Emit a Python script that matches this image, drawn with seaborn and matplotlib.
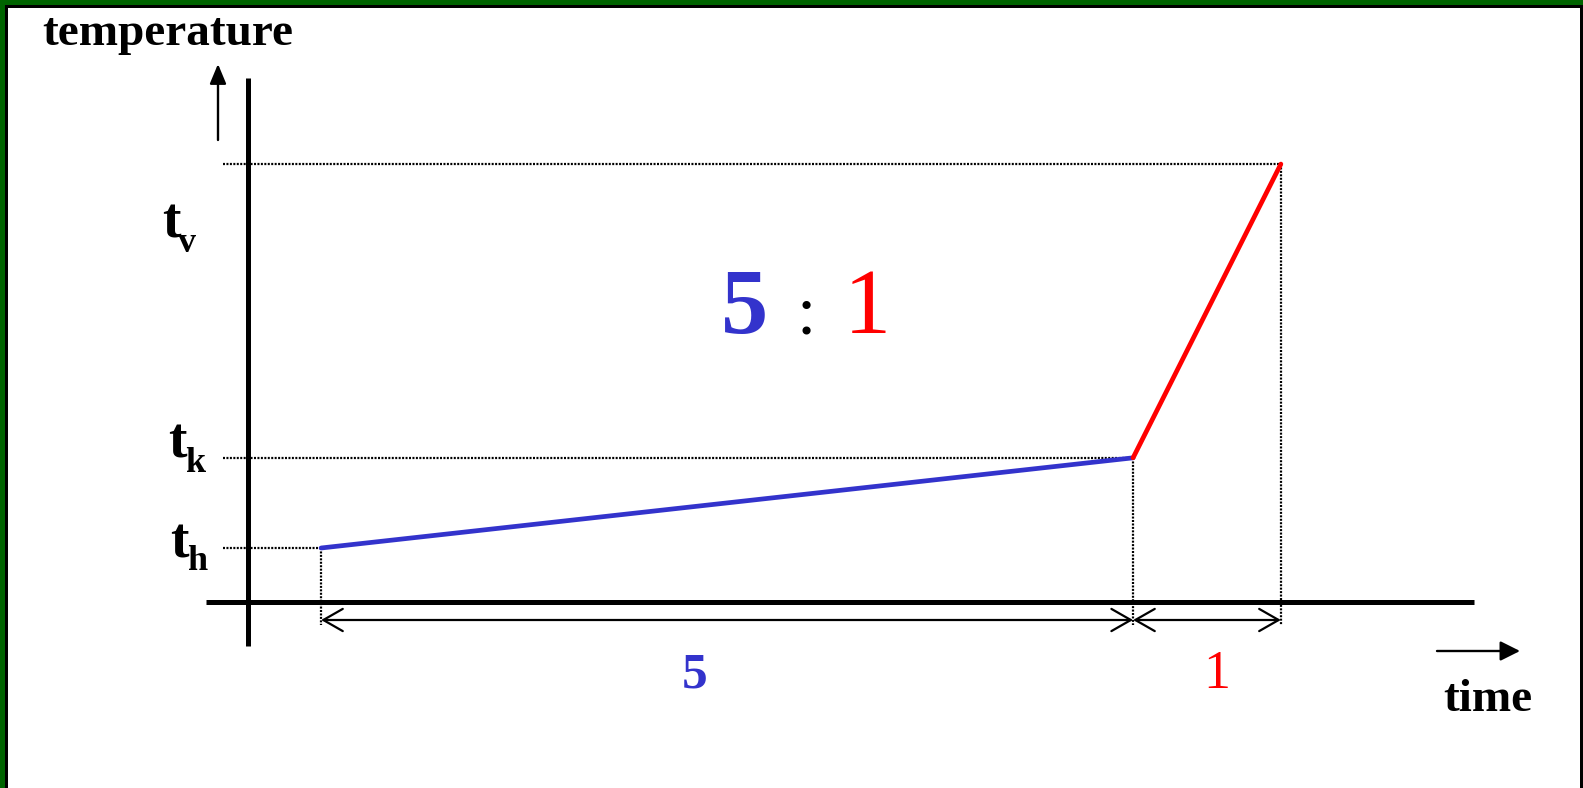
import numpy as np
import pandas as pd
import matplotlib
matplotlib.use("Agg")
import matplotlib.pyplot as plt
import seaborn as sns
from matplotlib.patches import FancyArrowPatch, Rectangle

# ---------------- data ----------------
stages = ["heating", "heating", "boiling", "boiling"]
time_points = [0.45, 5.45, 6.36]      # time at t_h, t_k, t_v (origin at vertical axis)
temp_points = [1.0, 2.67, 8.11]       # t_h, t_k, t_v
temp_subscripts = ["h", "k", "v"]
duration_labels = ["5", "1"]
ratio_parts = ["5", ":", "1"]
axis_titles = ["temperature", "time"]

BLUE = "#3333CC"
RED = "#FF0000"
GREEN = "#006400"

# ---------------- layout helpers ----------------
W, H = 1583, 788
OX, OY = 248, 602          # pixel position of the axes origin
SX, SY = 162.4, 54.0       # pixels per data unit


def P(x, y):
    """pixel (from top-left) -> data coordinates"""
    return (x - OX) / SX, (OY - y) / SY


sns.set_theme(style="white")
plt.rcParams["font.family"] = ["Liberation Serif", "DejaVu Serif"]

fig = plt.figure(figsize=(W / 100, H / 100), dpi=100)
ax = fig.add_axes([0, 0, 1, 1])
ax.set_xlim(-OX / SX, (W - OX) / SX)
ax.set_ylim((OY - H) / SY, OY / SY)
ax.axis("off")

# ---------------- main curve ----------------
df = pd.DataFrame({
    "time": [time_points[0], time_points[1], time_points[1], time_points[2]],
    "temp": [temp_points[0], temp_points[1], temp_points[1], temp_points[2]],
    "stage": stages,
})
sns.lineplot(data=df, x="time", y="temp", hue="stage", sort=False,
             palette={"heating": BLUE, "boiling": RED}, linewidth=3.4,
             legend=False, ax=ax, zorder=5)

# ---------------- axes lines ----------------
x0, _ = P(206, 0)
x1, _ = P(1474, 0)
ax.plot([x0, x1], [0, 0], color="black", lw=3.6, solid_capstyle="butt", zorder=3)
_, yb = P(0, 646)
_, yt = P(0, 78)
ax.plot([0, 0], [yb, yt], color="black", lw=3.6, solid_capstyle="butt", zorder=3)

# ---------------- dotted guide lines ----------------
dot = dict(color="black", lw=1.6, linestyle=(0, (0.9, 0.65)), zorder=2)
xd, _ = P(223, 0)
_, ydb = P(0, 625)
for t, T in zip(time_points, temp_points):
    ax.plot([xd, t], [T, T], **dot)
    ax.plot([t, t], [T, ydb], **dot)

# ---------------- duration arrows ----------------
_, ya = P(0, 620)
for a, b in [(time_points[0], time_points[1]), (time_points[1], time_points[2])]:
    ax.add_patch(FancyArrowPatch((a, ya), (b, ya),
                                 arrowstyle="<->,head_length=14,head_width=8",
                                 mutation_scale=1, lw=1.6, color="black",
                                 shrinkA=0, shrinkB=0, zorder=4))

# ---------------- axis direction arrows ----------------
ax.add_patch(FancyArrowPatch(P(1437, 651), P(1520, 651),
                             arrowstyle="-|>,head_length=12,head_width=6",
                             mutation_scale=1, lw=1.7, color="black",
                             shrinkA=0, shrinkB=0))
ax.add_patch(FancyArrowPatch(P(218, 140), P(218, 64),
                             arrowstyle="-|>,head_length=12,head_width=5",
                             mutation_scale=1, lw=1.7, color="black",
                             shrinkA=0, shrinkB=0))

# ---------------- texts ----------------
bold = dict(fontweight="bold", color="black")
ax.text(*P(168, 45), axis_titles[0], ha="center", va="baseline", fontsize=34, **bold)
ax.text(*P(1488, 711), axis_titles[1], ha="center", va="baseline", fontsize=34, **bold)

label_pos = [((170, 557), (187, 570)),
             ((168, 458), (185, 472)),
             ((162, 237), (178, 252))]
for sub, (tp, sp) in zip(temp_subscripts, label_pos):
    ax.text(*P(*tp), "t", ha="left", va="baseline", fontsize=40, **bold)
    ax.text(*P(*sp), sub, ha="left", va="baseline", fontsize=26, **bold)

# ratio
ax.text(*P(745, 333), ratio_parts[0], ha="center", va="baseline", fontsize=68,
        fontweight="bold", color=BLUE)
ax.text(*P(806, 333), ratio_parts[1], ha="center", va="baseline", fontsize=50,
        color="black")
ax.text(*P(867, 333), ratio_parts[2], ha="center", va="baseline", fontsize=68,
        color=RED)

# duration labels
ax.text(*P(695, 687), duration_labels[0], ha="center", va="baseline", fontsize=37,
        fontweight="bold", color=BLUE)
ax.text(*P(1217, 688), duration_labels[1], ha="center", va="baseline", fontsize=39,
        color=RED)

# ---------------- frame ----------------
def rect(x, y, w, h, c):
    fig.patches.append(Rectangle((x / W, 1 - (y + h) / H), w / W, h / H,
                                 transform=fig.transFigure, color=c, lw=0,
                                 zorder=10))

rect(0, 0, W, 5, GREEN)
rect(0, 0, 5, H, GREEN)
rect(5, 5, W - 5, 2.5, "black")
rect(5, 5, 2.5, H - 5, "black")
rect(W - 3, 5, 3, H - 5, "black")

fig.savefig("out.png", dpi=100)
